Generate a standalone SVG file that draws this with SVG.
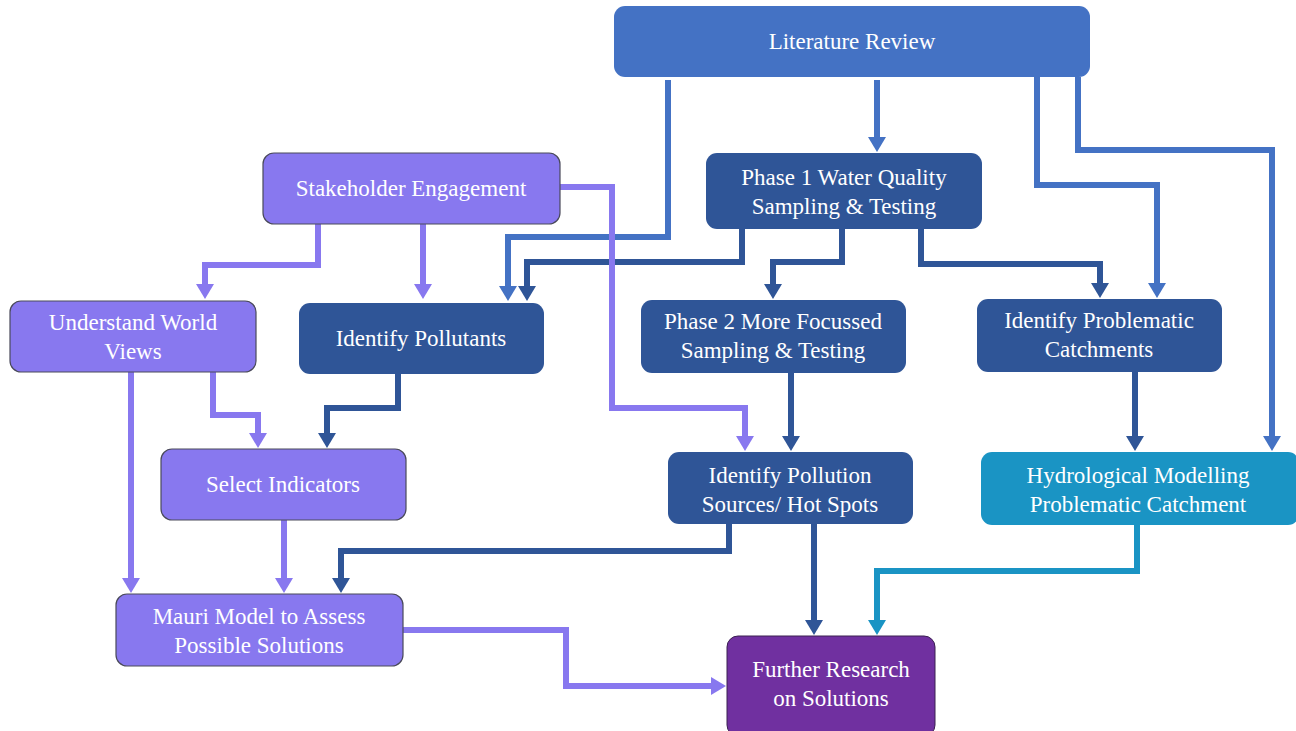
<svg xmlns="http://www.w3.org/2000/svg" width="1296" height="731" viewBox="0 0 1296 731">
<defs>
<style>
.t{font-family:"Liberation Serif","Times New Roman",serif;font-size:23px;fill:#fff;text-anchor:middle}
.lb{fill:#4472C4}
.db{fill:#2F5597}
.pu{fill:#8878EF;stroke:#4a4a5a;stroke-width:1.2}
.tl{fill:#1A94C4}
.vi{fill:#7030A0;stroke:#3a2050;stroke-width:1}
.c{fill:none;stroke-width:6;stroke-linejoin:miter}
.cb{stroke:#4472C4;marker-end:url(#ab)}
.cd{stroke:#2F5597;marker-end:url(#ad)}
.cp{stroke:#8878EF;marker-end:url(#ap)}
.ct{stroke:#1A94C4;marker-end:url(#at)}
</style>
<marker id="ab" markerUnits="userSpaceOnUse" markerWidth="16" markerHeight="20" viewBox="0 -10 16 20" refX="1" refY="0" orient="auto"><path d="M0,-9 L15,0 L0,9 Z" fill="#4472C4"/></marker>
<marker id="ad" markerUnits="userSpaceOnUse" markerWidth="16" markerHeight="20" viewBox="0 -10 16 20" refX="1" refY="0" orient="auto"><path d="M0,-9 L15,0 L0,9 Z" fill="#2F5597"/></marker>
<marker id="ap" markerUnits="userSpaceOnUse" markerWidth="16" markerHeight="20" viewBox="0 -10 16 20" refX="1" refY="0" orient="auto"><path d="M0,-9 L15,0 L0,9 Z" fill="#8878EF"/></marker>
<marker id="at" markerUnits="userSpaceOnUse" markerWidth="16" markerHeight="20" viewBox="0 -10 16 20" refX="1" refY="0" orient="auto"><path d="M0,-9 L15,0 L0,9 Z" fill="#1A94C4"/></marker>
</defs>
<rect width="1296" height="731" fill="#fff"/>
<g id="connectors">
<path class="c cb" d="M668,80 V237 H508 V287"/>
<path class="c cd" d="M742,229 V262 H527 V287"/>
<path class="c cd" d="M842,229 V262 H773 V285"/>
<path class="c cd" d="M921,229 V264 H1100 V284"/>
<path class="c cb" d="M877,80 V138"/>
<path class="c cb" d="M1037,77 V185 H1157 V284"/>
<path class="c cb" d="M1078,77 V150 H1272 V437"/>
<path class="c cp" d="M560,187 H612 V408 H745 V437"/>
<path class="c cp" d="M318,224 V265 H205 V285"/>
<path class="c cp" d="M423,224 V285"/>
<path class="c cp" d="M131,372 V579"/>
<path class="c cp" d="M213,372 V415 H258 V434"/>
<path class="c cd" d="M398,374 V408 H327 V434"/>
<path class="c cd" d="M791,373 V437"/>
<path class="c cd" d="M1135,372 V437"/>
<path class="c cp" d="M284,520 V579"/>
<path class="c cd" d="M729,524 V551 H341 V579"/>
<path class="c cd" d="M814,524 V621"/>
<path class="c ct" d="M1137,525 V571 H877 V621"/>
<path class="c cp" d="M403,630 H566 V686 H712"/>
</g>
<g id="lit-review"><rect class="lb" x="614" y="6" width="476" height="71" rx="11"/><text class="t" x="852" y="49">Literature Review</text></g>
<g id="phase1"><rect class="db" x="706" y="153" width="276" height="76" rx="11"/><text class="t" x="844" y="185">Phase 1 Water Quality</text><text class="t" x="844" y="214">Sampling &amp; Testing</text></g>
<g id="stakeholder"><rect class="pu" x="263" y="153" width="297" height="71" rx="11"/><text class="t" x="411" y="196">Stakeholder Engagement</text></g>
<g id="world-views"><rect class="pu" x="10" y="301" width="246" height="71" rx="11"/><text class="t" x="133" y="330">Understand World</text><text class="t" x="133" y="359">Views</text></g>
<g id="pollutants"><rect class="db" x="299" y="303" width="245" height="71" rx="11"/><text class="t" x="421" y="346">Identify Pollutants</text></g>
<g id="phase2"><rect class="db" x="641" y="300" width="265" height="73" rx="11"/><text class="t" x="773" y="329">Phase 2 More Focussed</text><text class="t" x="773" y="358">Sampling &amp; Testing</text></g>
<g id="problematic"><rect class="db" x="977" y="299" width="245" height="73" rx="11"/><text class="t" x="1099" y="328">Identify Problematic</text><text class="t" x="1099" y="357">Catchments</text></g>
<g id="select-indicators"><rect class="pu" x="161" y="449" width="245" height="71" rx="11"/><text class="t" x="283" y="492">Select Indicators</text></g>
<g id="pollution-sources"><rect class="db" x="668" y="452" width="245" height="72" rx="11"/><text class="t" x="790" y="483">Identify Pollution</text><text class="t" x="790" y="512">Sources/ Hot Spots</text></g>
<g id="hydro"><rect class="tl" x="981" y="452" width="318" height="73" rx="11"/><text class="t" x="1138" y="483">Hydrological Modelling</text><text class="t" x="1138" y="512">Problematic Catchment</text></g>
<g id="mauri"><rect class="pu" x="116" y="594" width="287" height="72" rx="11"/><text class="t" x="259" y="624">Mauri Model to Assess</text><text class="t" x="259" y="653">Possible Solutions</text></g>
<g id="further"><rect class="vi" x="727" y="636" width="208" height="100" rx="11"/><text class="t" x="831" y="677">Further Research</text><text class="t" x="831" y="706">on Solutions</text></g>
</svg>
